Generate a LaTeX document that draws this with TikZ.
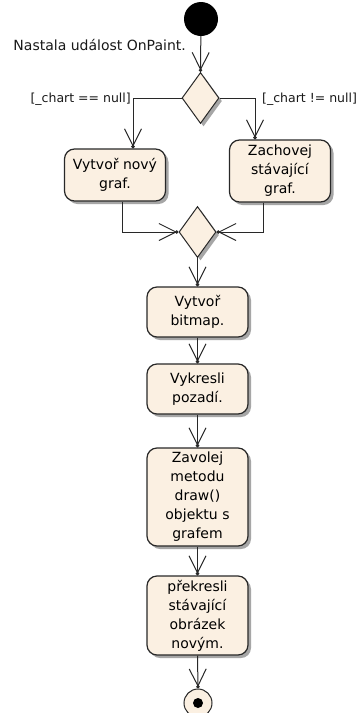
\documentclass[tikz,border=0pt]{standalone}
\usepackage{fontspec}
\setmainfont{DejaVu Sans}
\usetikzlibrary{arrows.meta,shapes.geometric,shadows,calc}
\definecolor{boxfill}{RGB}{251,240,226}
\definecolor{edge}{RGB}{40,40,40}
\begin{document}
\begin{tikzpicture}[x=1pt,y=-1pt,
  font=\fontsize{14}{19}\selectfont,
  act/.style={draw=edge, line width=1.2pt, fill=boxfill, rounded corners=10pt,
    minimum width=101pt, align=center, inner sep=2pt,
    drop shadow={shadow xshift=3pt, shadow yshift=-3pt, fill=black!35, opacity=1}},
  dec/.style={diamond, draw=edge, line width=1pt, fill=boxfill, minimum width=37pt,
    minimum height=51pt, inner sep=0pt,
    drop shadow={shadow xshift=3pt, shadow yshift=-3pt, fill=black!35, opacity=1}},
  flow/.style={draw=edge, line width=1pt,
    -{Straight Barb[length=17pt,width=17pt,sep=-2pt] Circle[length=3.5pt]}},
  lbl/.style={inner sep=0pt, text=black!90},
  guard/.style={lbl, font=\fontsize{12.5}{15}\selectfont}]
\fill[white] (0,0) rectangle (363,713);
\useasboundingbox (0,0) rectangle (363,713);

\node[circle, fill=black, minimum size=34pt, inner sep=0pt] (start) at (201,19) {};
\node[lbl, anchor=east] (lab) at (186,45) {Nastala událost OnPaint.};
\node[dec] (d1) at (200.5,98) {};
\node[guard, anchor=east] (gL) at (131,99) {[\_chart == null]};
\node[guard, anchor=west] (gR) at (262,99) {[\_chart != null]};
\node[act, minimum height=52pt] (bL) at (115,175) {Vytvoř nový\\graf.};
\node[act, minimum height=62pt] (bR) at (280,171) {Zachovej\\stávající\\graf.};
\node[dec] (d2) at (197.5,232) {};
\node[act, minimum height=50pt] (b1) at (197.5,312) {Vytvoř\\bitmap.};
\node[act, minimum height=50pt] (b2) at (197.5,389) {Vykresli\\pozadí.};
\node[act, minimum height=98pt] (b3) at (197.5,497) {Zavolej\\metodu\\draw()\\objektu s\\grafem};
\node[act, minimum height=79pt] (b4) at (197.5,615.5) {překresli\\stávající\\obrázek\\novým.};
\node[circle, draw=edge, fill=boxfill, minimum size=28pt, line width=1pt, inner sep=0pt] (end) at (198,703) {};
\node[circle, fill=black, minimum size=10pt, inner sep=0pt] (endd) at (end.center) {};

\draw[flow] (start) -- (d1.north);
\draw[flow] (d1.west) -| ([xshift=18pt]bL.north);
\draw[flow] (d1.east) -| ([xshift=-25pt]bR.north);
\draw[flow] ([xshift=7pt]bL.south) |- (d2.west);
\draw[flow] ([xshift=-17pt]bR.south) |- (d2.east);
\draw[flow] (d2.south) -- (b1.north);
\draw[flow] (b1.south) -- (b2.north);
\draw[flow] (b2.south) -- (b3.north);
\draw[flow] (b3.south) -- (b4.north);
\draw[flow] (b4.south) -- (end.north);
\end{tikzpicture}
\end{document}
